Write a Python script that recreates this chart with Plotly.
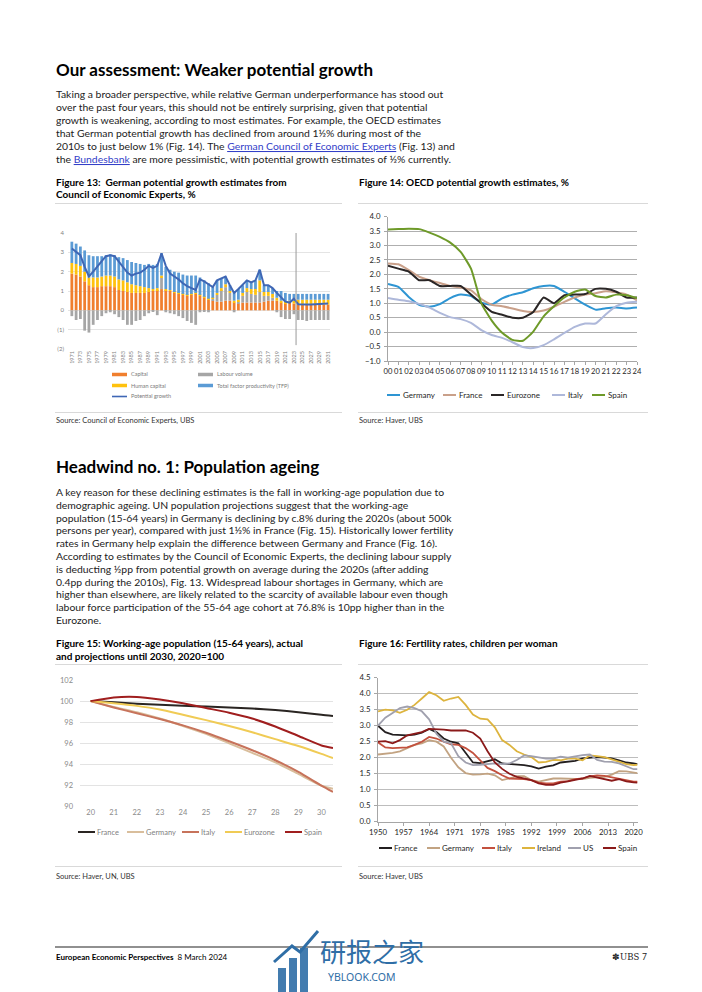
import plotly.graph_objects as go

W, H = 702, 992
FONT = "Lato"


def PX(v):
    return v / W


def PY(v):
    return 1 - v / H


# ---------------- Figure 13 data: German potential growth (CEE) ----------------
f13_years = list(range(1971, 2032))
f13_capital = [1.9, 1.85, 1.75, 1.5, 1.3, 1.2, 1.2, 1.25, 1.25, 1.25,
               1.2, 1.05, 1.0, 0.95, 0.9, 0.9, 0.9, 0.9, 0.95, 1.0,
               1.05, 1.1, 1.05, 1.0, 0.9, 0.85, 0.8, 0.75, 0.8, 0.85,
               0.75, 0.65, 0.55, 0.5, 0.45, 0.45, 0.5, 0.5, 0.4, 0.35,
               0.4, 0.4, 0.4, 0.4, 0.4, 0.45, 0.5, 0.5, 0.5, 0.4,
               0.35, 0.4, 0.35, 0.3, 0.3, 0.3, 0.3, 0.3, 0.3, 0.3, 0.3]
f13_labour = [-0.3, -0.5, -0.45, -1.05, -1.15, -0.75, -0.5, -0.3, -0.15, -0.1,
              -0.2, -0.35, -0.5, -0.75, -0.75, -0.55, -0.5, -0.3, -0.15, -0.05,
              -0.25, 0.6, -0.1, -0.15, -0.2, -0.3, -0.4, -0.55, -0.65, -0.75,
              -0.1, -0.05, -0.1, 0.1, 0.35, 0.6, 0.7, 0.4, -0.1, 0.1,
              0.35, 0.55, 0.45, 0.4, 0.55, 0.3, 0.25, 0.15, -0.1, -0.35,
              -0.45, -0.45, -0.2, -0.5, -0.5, -0.55, -0.5, -0.5, -0.5, -0.5, -0.5]
f13_human = [0.55, 0.55, 0.55, 0.5, 0.4, 0.5, 0.5, 0.5, 0.55, 0.55,
             0.55, 0.55, 0.55, 0.5, 0.45, 0.4, 0.35, 0.3, 0.2, 0.1,
             0.1, 0.1, 0.05, 0.05, 0.05, 0.05, 0.05, 0.05, 0.05, 0.05,
             0.05, 0.05, 0.05, 0.05, 0.1, 0.1, 0.15, 0.1, 0.1, 0.1,
             0.15, 0.2, 0.25, 0.3, 0.6, 0.2, 0.2, 0.2, 0.15, 0.1,
             0.1, 0.1, 0.15, 0.25, 0.25, 0.25, 0.25, 0.25, 0.25, 0.25, 0.25]
f13_tfp = [1.1, 1.05, 1.0, 1.1, 1.15, 1.1, 1.1, 1.05, 1.05, 1.1,
           1.1, 1.15, 1.15, 1.15, 1.15, 1.15, 1.15, 1.15, 1.25, 1.25,
           1.25, 1.15, 1.15, 1.05, 1.05, 1.05, 1.0, 1.0, 0.95, 0.9,
           0.9, 0.85, 0.8, 0.55, 0.65, 0.5, 0.4, 0.3, 0.5, 0.55,
           0.4, 0.4, 0.35, 0.45, 0.55, 0.35, 0.35, 0.3, 0.35, 0.5,
           0.45, 0.35, 0.35, 0.3, 0.3, 0.3, 0.3, 0.3, 0.3, 0.3, 0.3]
f13_potential = [3.2, 3.0, 2.85, 2.25, 1.75, 2.0, 2.3, 2.55, 2.8, 2.85,
                 2.8, 2.5, 2.2, 1.95, 1.8, 1.9, 1.95, 2.1, 2.3, 2.2,
                 2.3, 2.95, 2.3, 1.9, 1.75, 1.6, 1.4, 1.25, 1.15, 1.05,
                 1.6, 1.5, 1.35, 1.2, 1.55, 1.65, 1.75, 1.3, 0.9, 1.1,
                 1.3, 1.55, 1.45, 1.55, 2.1, 1.3, 1.3, 1.15, 0.9, 0.65,
                 0.45, 0.4, 0.6, 0.32, 0.3, 0.3, 0.3, 0.32, 0.33, 0.35, 0.35]
f13_tick_years = list(range(1971, 2032, 2))
f13_ytick_vals = [-2, -1, 0, 1, 2, 3, 4]
f13_ytick_text = ["(2)", "(1)", "0", "1", "2", "3", "4"]
f13_forecast_start = 2023.5

# ---------------- Figure 14 data: OECD potential growth ----------------
f14_years = list(range(0, 25))
f14_labels = ["%02d" % y for y in f14_years]
f14_germany = [1.67, 1.57, 1.22, 0.95, 0.88, 0.97, 1.18, 1.3, 1.25, 1.02, 0.96, 1.17, 1.3, 1.38, 1.52,
               1.6, 1.6, 1.4, 1.17, 0.95, 0.78, 0.83, 0.85, 0.82, 0.85]
f14_france = [2.38, 2.35, 2.15, 1.92, 1.8, 1.7, 1.6, 1.55, 1.45, 1.15, 0.95, 0.9, 0.82, 0.73, 0.7,
              0.75, 0.88, 1.05, 1.2, 1.3, 1.35, 1.42, 1.38, 1.3, 1.1]
f14_eurozone = [2.3, 2.2, 2.1, 1.8, 1.8, 1.6, 1.6, 1.6, 1.3, 1.0, 0.7, 0.6, 0.5, 0.5, 0.7,
                1.2, 1.0, 1.28, 1.3, 1.32, 1.5, 1.5, 1.4, 1.2, 1.2]
f14_italy = [1.18, 1.12, 1.07, 0.98, 0.85, 0.67, 0.52, 0.45, 0.32, 0.07, -0.1, -0.2, -0.35, -0.52, -0.55,
             -0.45, -0.25, -0.03, 0.18, 0.3, 0.3, 0.62, 0.9, 1.02, 1.05]
f14_spain = [3.56, 3.57, 3.58, 3.57, 3.45, 3.3, 3.1, 2.78, 2.2, 1.0, 0.4, -0.02, -0.27, -0.3, 0.02,
             0.55, 0.9, 1.2, 1.4, 1.48, 1.25, 1.2, 1.3, 1.28, 1.18]

# ---------------- Figure 15 data: working-age population, 2020=100 ----------------
f15_x = [20, 21, 22, 23, 24, 25, 26, 27, 28, 29, 30, 30.5]
f15_ticks = list(range(20, 31))
f15_france = [100, 99.9, 99.75, 99.65, 99.55, 99.5, 99.4, 99.3, 99.15, 98.95, 98.7, 98.6]
f15_germany = [100, 99.45, 98.95, 98.35, 97.65, 96.9, 96.0, 95.1, 94.2, 93.1, 92.0, 91.7]
f15_italy = [100, 99.4, 98.85, 98.3, 97.7, 97.0, 96.2, 95.35, 94.4, 93.3, 92.0, 91.4]
f15_eurozone = [100, 99.8, 99.55, 99.2, 98.7, 98.2, 97.65, 97.05, 96.4, 95.75, 95.0, 94.6]
f15_spain = [100, 100.35, 100.4, 100.15, 99.8, 99.35, 98.9, 98.35, 97.6, 96.7, 95.8, 95.55]

# ---------------- Figure 16 data: fertility rates ----------------
f16_years = list(range(1950, 2021, 2)) + [2021]
f16_ticks = list(range(1950, 2021, 7))
f16_france = [3.0, 2.8, 2.72, 2.7, 2.7, 2.72, 2.78, 2.9, 2.8, 2.6, 2.5, 2.45, 2.15, 1.85, 1.83, 1.9,
              1.95, 1.82, 1.8, 1.8, 1.77, 1.73, 1.66, 1.72, 1.76, 1.85, 1.88, 1.9, 1.98, 2.0, 2.02,
              2.0, 1.98, 1.92, 1.85, 1.82, 1.8]
f16_germany = [2.1, 2.12, 2.15, 2.2, 2.3, 2.4, 2.45, 2.55, 2.5, 2.35, 2.0, 1.7, 1.52, 1.47, 1.48, 1.5,
               1.45, 1.3, 1.35, 1.42, 1.42, 1.3, 1.25, 1.3, 1.35, 1.35, 1.35, 1.35, 1.33, 1.37, 1.39,
               1.4, 1.47, 1.58, 1.57, 1.53, 1.52]
f16_italy = [2.48, 2.32, 2.3, 2.3, 2.32, 2.4, 2.5, 2.65, 2.6, 2.5, 2.42, 2.4, 2.3, 2.15, 1.9, 1.68,
             1.58, 1.45, 1.35, 1.35, 1.33, 1.3, 1.22, 1.2, 1.2, 1.25, 1.27, 1.33, 1.35, 1.42, 1.45,
             1.43, 1.38, 1.35, 1.3, 1.25, 1.25]
f16_ireland = [3.45, 3.5, 3.48, 3.4, 3.5, 3.65, 3.85, 4.05, 3.95, 3.78, 3.85, 3.9, 3.65, 3.35, 3.22, 3.2,
               2.95, 2.55, 2.4, 2.2, 2.1, 2.02, 1.85, 1.87, 1.93, 1.92, 1.97, 1.97, 1.92, 2.07, 2.05,
               2.02, 1.95, 1.87, 1.8, 1.77, 1.78]
f16_us = [3.0, 3.25, 3.4, 3.55, 3.6, 3.55, 3.45, 3.2, 2.75, 2.5, 2.45, 2.05, 1.85, 1.77, 1.78, 1.8,
          1.82, 1.8, 1.82, 1.93, 2.07, 2.05, 2.0, 1.97, 1.97, 2.03, 2.0, 2.05, 2.08, 2.1, 1.93,
          1.88, 1.87, 1.82, 1.72, 1.64, 1.64]
f16_spain = [2.5, 2.52, 2.45, 2.55, 2.7, 2.75, 2.8, 2.9, 2.9, 2.88, 2.85, 2.85, 2.85, 2.78, 2.6, 2.2,
             1.85, 1.65, 1.5, 1.4, 1.35, 1.3, 1.2, 1.15, 1.15, 1.22, 1.26, 1.3, 1.35, 1.43, 1.38,
             1.34, 1.28, 1.33, 1.26, 1.23, 1.22]

# ---------------- styles ----------------
C13 = {"Capital": "#F07F2E", "Labour volume": "#A6A6A6", "Human capital": "#FFC20E",
       "Total factor productivity (TFP)": "#5B9BD5", "Potential growth": "#3F67B5"}
C14 = {"Germany": "#2E95D3", "France": "#C9A08A", "Eurozone": "#2A2626", "Italy": "#AEB8DA", "Spain": "#6E9A29"}
C15 = {"France": "#2A2522", "Germany": "#D9BE9C", "Italy": "#C7735B", "Eurozone": "#F0CB55", "Spain": "#A01E1E"}
C16 = {"France": "#231F20", "Germany": "#C2A382", "Italy": "#C3513E", "Ireland": "#DDB43E", "US": "#A0A0AE",
       "Spain": "#8B1A1A"}

fig = go.Figure()

# ---- Figure 13 traces
for name, vals in [("Capital", f13_capital), ("Labour volume", f13_labour),
                   ("Human capital", f13_human), ("Total factor productivity (TFP)", f13_tfp)]:
    fig.add_trace(go.Bar(x=f13_years, y=vals, name=name, marker=dict(color=C13[name], line=dict(width=0)),
                         xaxis="x", yaxis="y", showlegend=False))
fig.add_trace(go.Scatter(x=f13_years, y=f13_potential, name="Potential growth", mode="lines",
                         line=dict(color=C13["Potential growth"], width=2), xaxis="x", yaxis="y", showlegend=False))

# ---- Figure 14 traces
f14_series = [("Germany", f14_germany), ("France", f14_france), ("Eurozone", f14_eurozone),
              ("Italy", f14_italy), ("Spain", f14_spain)]
for name, vals in f14_series:
    fig.add_trace(go.Scatter(x=f14_years, y=vals, name=name, mode="lines",
                             line=dict(color=C14[name], width=2, shape="spline", smoothing=0.5),
                             xaxis="x2", yaxis="y2", showlegend=False))

# ---- Figure 15 traces
f15_series = [("France", f15_france), ("Germany", f15_germany), ("Italy", f15_italy),
              ("Eurozone", f15_eurozone), ("Spain", f15_spain)]
for name, vals in f15_series:
    fig.add_trace(go.Scatter(x=f15_x, y=vals, name=name, mode="lines",
                             line=dict(color=C15[name], width=2, shape="spline", smoothing=0.6),
                             xaxis="x3", yaxis="y3", showlegend=False))

# ---- Figure 16 traces
f16_series = [("France", f16_france), ("Germany", f16_germany), ("Italy", f16_italy),
              ("Ireland", f16_ireland), ("US", f16_us), ("Spain", f16_spain)]
for name, vals in f16_series:
    fig.add_trace(go.Scatter(x=f16_years, y=vals, name=name, mode="lines",
                             line=dict(color=C16[name], width=1.8),
                             xaxis="x4", yaxis="y4", showlegend=False))

annotations = []
shapes = []


def text(x, y, s, size, color="#1f1f1f", bold=False, anchor="left", family=FONT):
    annotations.append(dict(x=PX(x), y=PY(y), xref="paper", yref="paper",
                            text=("<b>%s</b>" % s) if bold else s, showarrow=False,
                            xanchor=anchor, yanchor="middle", align=anchor,
                            font=dict(family=family, size=size, color=color)))


def hline(x0, x1, y, color, width):
    shapes.append(dict(type="line", xref="paper", yref="paper", x0=PX(x0), x1=PX(x1),
                       y0=PY(y), y1=PY(y), line=dict(color=color, width=width)))


def legend_item(x, y, name, color, size, tcolor, sw, lw, gap):
    hline(x, x + sw, y, color, lw)
    text(x + sw + gap, y, name, size, tcolor)


# ---- page text
text(54, 69, "Our assessment: Weaker potential growth", 17, "#000000", bold=True)
LINK = '<span style="color:#3340c8;text-decoration:underline">%s</span>'
para1 = [
    "Taking a broader perspective, while relative German underperformance has stood out",
    "over the past four years, this should not be entirely surprising, given that potential",
    "growth is weakening, according to most estimates. For example, the OECD estimates",
    "that German potential growth has declined from around 1½% during most of the",
    "2010s to just below 1% (Fig. 14). The " + LINK % "German Council of Economic Experts" + " (Fig. 13) and",
    "the " + LINK % "Bundesbank" + " are more pessimistic, with potential growth estimates of ½% currently.",
]
for i, line in enumerate(para1):
    text(54, 94.5 + i * 12.8, line, 10.4, "#222222")

text(54, 467, "Headwind no. 1: Population ageing", 17, "#000000", bold=True)
para2 = [
    "A key reason for these declining estimates is the fall in working-age population due to",
    "demographic ageing. UN population projections suggest that the working-age",
    "population (15-64 years) in Germany is declining by c.8% during the 2020s (about 500k",
    "persons per year), compared with just 1½% in France (Fig. 15). Historically lower fertility",
    "rates in Germany help explain the difference between Germany and France (Fig. 16).",
    "According to estimates by the Council of Economic Experts, the declining labour supply",
    "is deducting ½pp from potential growth on average during the 2020s (after adding",
    "0.4pp during the 2010s), Fig. 13. Widespread labour shortages in Germany, which are",
    "higher than elsewhere, are likely related to the scarcity of available labour even though",
    "labour force participation of the 55-64 age cohort at 76.8% is 10pp higher than in the",
    "Eurozone.",
]
for i, line in enumerate(para2):
    text(54, 492 + i * 12.8, line, 10.4, "#222222")

# ---- figure titles / sources / separators
text(54, 181.5, "Figure 13:  German potential growth estimates from", 10, "#000000", bold=True)
text(54, 194.5, "Council of Economic Experts, %", 10, "#000000", bold=True)
hline(55, 342, 203.5, "#D9D9D9", 1)
hline(55, 342, 412.5, "#D9D9D9", 1)
text(54, 421, "Source: Council of Economic Experts, UBS", 7.5, "#333333")

text(357, 181.5, "Figure 14: OECD potential growth estimates, %", 10, "#000000", bold=True)
hline(358, 648, 203.5, "#D9D9D9", 1)
hline(358, 648, 412.5, "#D9D9D9", 1)
text(357, 421, "Source: Haver, UBS", 7.5, "#333333")

text(54, 642.5, "Figure 15: Working-age population (15-64 years), actual", 10, "#000000", bold=True)
text(54, 655.5, "and projections until 2030, 2020=100", 10, "#000000", bold=True)
hline(55, 342, 664.5, "#D9D9D9", 1)
hline(55, 342, 866.5, "#D9D9D9", 1)
text(54, 876.5, "Source: Haver, UN, UBS", 7.5, "#333333")

text(357, 642.5, "Figure 16: Fertility rates, children per woman", 10, "#000000", bold=True)
hline(358, 648, 664.5, "#D9D9D9", 1)
hline(358, 648, 866.5, "#D9D9D9", 1)
text(357, 876.5, "Source: Haver, UBS", 7.5, "#333333")

# ---- legends (drawn as keys beneath each chart)
f13_legend_pos = [("Capital", 112, 374.5), ("Labour volume", 198, 374.5), ("Human capital", 112, 385.5),
                  ("Total factor productivity (TFP)", 198, 385.5)]
for name, lx, ly in f13_legend_pos:
    legend_item(lx, ly, name, C13[name], 5.5, "#7a7a7a", 15, 3.5, 2)
legend_item(112, 396.5, "Potential growth", C13["Potential growth"], 5.5, "#7a7a7a", 15, 1.6, 2)

f14_leg_x = [387, 443, 491, 552, 592]
for (name, _), lx in zip(f14_series, f14_leg_x):
    legend_item(lx, 395, name, C14[name], 8, "#262626", 13, 2, 1)

f15_leg_x = [78, 127, 182, 225, 285]
for (name, _), lx in zip(f15_series, f15_leg_x):
    legend_item(lx, 832, name, C15[name], 7.5, "#7f7f7f", 17, 2, 0)

f16_leg_x = [379, 427, 482, 522, 568, 603]
for (name, _), lx in zip(f16_series, f16_leg_x):
    legend_item(lx, 848, name, C16[name], 8, "#262626", 13, 2, 0)

# ---- forecast divider in Figure 13
shapes.append(dict(type="line", xref="x", yref="y", x0=f13_forecast_start, x1=f13_forecast_start,
                   y0=-1.8, y1=4.0, line=dict(color="#9a9a9a", width=1)))

# ---- footer
hline(55, 648, 947, "#6b6b6b", 1.5)
text(54, 956.5, "<b>European Economic Perspectives</b>  8 March 2024", 8, "#000000")
text(641, 956.5, "✽UBS", 8.5, "#222222", anchor="right", family="DejaVu Serif")
text(649, 956.5, "7", 8.5, "#222222", anchor="right")

# ---- watermark
WM = "#2F6EA6"
for x0, x1, y0 in [(278, 286, 968), (289, 297, 958), (300, 308, 948)]:
    shapes.append(dict(type="rect", xref="paper", yref="paper", x0=PX(x0), x1=PX(x1), y0=PY(992), y1=PY(y0),
                       fillcolor=WM, line=dict(width=0), opacity=0.9))
shapes.append(dict(type="path", xref="paper", yref="paper",
                   path="M %f %f L %f %f L %f %f L %f %f" % (PX(274), PY(962), PX(292), PY(946), PX(300), PY(952),
                                                             PX(318), PY(931)),
                   line=dict(color=WM, width=3)))
text(318, 950, "研报之家", 26, WM, family="Noto Sans CJK SC")
text(326, 977, "YBLOOK.COM", 10.5, WM, family="Noto Sans")

# ---- axes
tick_small = dict(family=FONT, size=5.5, color="#7f7f7f")
fig.update_layout(
    width=W, height=H, margin=dict(l=0, r=0, t=0, b=0),
    template="none", paper_bgcolor="white", plot_bgcolor="white",
    font=dict(family=FONT, color="#222222"),
    showlegend=False, barmode="relative", bargap=0.35,
    annotations=annotations, shapes=shapes,
    xaxis=dict(domain=[PX(68), PX(330)], anchor="y", range=[1970.1, 2031.45], tickmode="array",
               tickvals=f13_tick_years, ticktext=[str(y) for y in f13_tick_years], tickangle=-90,
               tickfont=tick_small, showgrid=False, zeroline=False, showline=False, ticks="",
               automargin=False),
    yaxis=dict(domain=[PY(349), PY(233)], anchor="x", range=[-2, 4], tickmode="array",
               tickvals=f13_ytick_vals, ticktext=f13_ytick_text, tickfont=dict(family=FONT, size=6, color="#7f7f7f"),
               showgrid=True, gridcolor="#E4E4E4", gridwidth=1, zeroline=False, showline=False, ticks="",
               ticklabelstandoff=3, automargin=False),
    xaxis2=dict(domain=[PX(388), PX(637)], anchor="y2", range=[0, 24], tickmode="array",
                tickvals=f14_years, ticktext=f14_labels, tickangle=0,
                tickfont=dict(family=FONT, size=7.6, color="#262626"),
                showgrid=False, zeroline=False, showline=True, linecolor="#A6A6A6", linewidth=1,
                ticks="outside", ticklen=3, tickcolor="#A6A6A6", automargin=False),
    yaxis2=dict(domain=[PY(361), PY(216.7)], anchor="x2", range=[-1, 4], dtick=0.5, tick0=0,
                tickformat=".1f", tickfont=dict(family=FONT, size=7.8, color="#262626"),
                showgrid=True, gridcolor="#AFAFAF", gridwidth=1, zeroline=False, showline=True,
                linecolor="#A6A6A6", linewidth=1, ticks="outside", ticklen=3, tickcolor="#A6A6A6",
                ticklabelstandoff=2, automargin=False),
    xaxis3=dict(domain=[PX(80), PX(333)], anchor="y3", range=[19.54, 30.5], tickmode="array",
                tickvals=f15_ticks, ticktext=[str(t) for t in f15_ticks], tickangle=0,
                tickfont=dict(family=FONT, size=7.5, color="#8a8a8a"),
                showgrid=False, zeroline=False, showline=False, ticks="", automargin=False),
    yaxis3=dict(domain=[PY(806.7), PY(680)], anchor="x3", range=[90, 102], dtick=2, tick0=90,
                tickfont=dict(family=FONT, size=7.5, color="#8a8a8a"),
                showgrid=True, gridcolor="#E3E3E3", gridwidth=1, zeroline=False, showline=False, ticks="",
                ticklabelstandoff=6, automargin=False),
    xaxis4=dict(domain=[PX(378), PX(638)], anchor="y4", range=[1950, 2021.2], tickmode="array",
                tickvals=f16_ticks, ticktext=[str(t) for t in f16_ticks], tickangle=0,
                tickfont=dict(family=FONT, size=7.8, color="#262626"),
                showgrid=False, zeroline=False, showline=True, linecolor="#A6A6A6", linewidth=1,
                ticks="outside", ticklen=3, tickcolor="#A6A6A6", automargin=False),
    yaxis4=dict(domain=[PY(821.7), PY(677.7)], anchor="x4", range=[0, 4.5], dtick=0.5, tick0=0,
                tickformat=".1f", tickfont=dict(family=FONT, size=7.8, color="#262626"),
                showgrid=True, gridcolor="#BDBDBD", gridwidth=1, zeroline=False, showline=True,
                linecolor="#A6A6A6", linewidth=1, ticks="outside", ticklen=3, tickcolor="#A6A6A6",
                ticklabelstandoff=2, automargin=False),
)

fig.write_html("out.html", config={"displayModeBar": False},
               post_script="document.body.style.margin='0px';")
